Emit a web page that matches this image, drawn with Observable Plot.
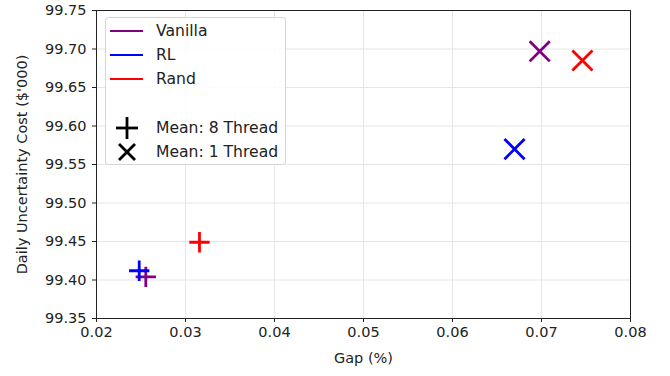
<!DOCTYPE html>
<html>
<head>
<meta charset="utf-8">
<script src="https://cdn.jsdelivr.net/npm/d3@7"></script>
<script src="https://cdn.jsdelivr.net/npm/@observablehq/plot@0.6"></script>
<style>
  html, body { margin: 0; padding: 0; background: #fff; }
  #wrap { position: relative; width: 670px; height: 376px; font-family: "DejaVu Sans", sans-serif; }
  #legend { position: absolute; left: 105px; top: 17px; width: 181px; height: 148px; box-sizing: border-box;
    border: 1px solid #d6d6d6; border-radius: 3px; background: rgba(255,255,255,0.85); font-size: 15.6px; color: #222; }
  #legend .row { position: absolute; left: 0; height: 20px; display: flex; align-items: center; }
  #legend .row span { position: absolute; left: 50px; white-space: nowrap; }
  svg text { font-size: 14.5px; }
</style>
</head>
<body>
<div id="wrap"></div>
<script>
const methods = ["Vanilla", "RL", "Rand"];
const colors = ["#800080", "#0000ff", "#ff0000"];
// Mean: 8 Thread (plus markers)
const gap8 = [0.02554, 0.0248, 0.03157];
const cost8 = [99.404, 99.412, 99.449];
// Mean: 1 Thread (times markers)
const gap1 = [0.0698, 0.06697, 0.0746];
const cost1 = [99.697, 99.570, 99.685];
const xTicks = [0.02, 0.03, 0.04, 0.05, 0.06, 0.07, 0.08];
const yTicks = [99.35, 99.40, 99.45, 99.50, 99.55, 99.60, 99.65, 99.70, 99.75];
const legendMarkers = ["Mean: 8 Thread", "Mean: 1 Thread"];

const d8 = methods.map((m, i) => ({method: m, gap: gap8[i], cost: cost8[i]}));
const d1 = methods.map((m, i) => ({method: m, gap: gap1[i], cost: cost1[i]}));

const plot = Plot.plot({
  width: 670,
  height: 376,
  marginLeft: 96,
  marginRight: 40,
  marginTop: 10,
  marginBottom: 58,
  style: {fontFamily: "DejaVu Sans, sans-serif", fontSize: "14.5px", color: "#222", background: "#fff"},
  x: {domain: [0.02, 0.08]},
  y: {domain: [99.35, 99.75]},
  color: {domain: methods, range: colors},
  marks: [
    Plot.gridX(xTicks, {stroke: "#e6e6e6", strokeOpacity: 1}),
    Plot.gridY(yTicks, {stroke: "#e6e6e6", strokeOpacity: 1}),
    Plot.frame({stroke: "#222", strokeWidth: 1}),
    Plot.axisX({ticks: xTicks, tickSize: 4, tickPadding: 4, tickFormat: d => d.toFixed(2), label: "Gap (%)", labelAnchor: "center", labelArrow: "none", labelOffset: 44, fontSize: 14.5}),
    Plot.axisY({ticks: yTicks, tickSize: 4, tickPadding: 6, tickFormat: d => d.toFixed(2), label: "Daily Uncertainty Cost ($'000)", labelAnchor: "center", labelArrow: "none", labelOffset: 80, fontSize: 14.5}),
    Plot.dot(d8, {x: "gap", y: "cost", stroke: "method", symbol: "plus", r: 6.6, strokeWidth: 2.8}),
    Plot.dot(d1, {x: "gap", y: "cost", stroke: "method", symbol: "times", r: 9.2, strokeWidth: 2.8})
  ]
});

const wrap = document.getElementById("wrap");
wrap.appendChild(plot);

// Legend overlay
const lg = document.createElement("div");
lg.id = "legend";
const rowsY = [3, 27, 51];
methods.forEach((m, i) => {
  const r = document.createElement("div");
  r.className = "row";
  r.style.top = rowsY[i] + "px";
  r.innerHTML = `<svg width="50" height="20"><line x1="4" x2="37" y1="10" y2="10" stroke="${colors[i]}" stroke-width="2"/></svg><span>${m}</span>`;
  lg.appendChild(r);
});
const mk = [
  `<line x1="10" x2="32" y1="10" y2="10" stroke="#000" stroke-width="2.8"/><line x1="21" x2="21" y1="-1" y2="21" stroke="#000" stroke-width="2.8"/>`,
  `<line x1="13" x2="29" y1="2" y2="18" stroke="#000" stroke-width="2.8"/><line x1="13" x2="29" y1="18" y2="2" stroke="#000" stroke-width="2.8"/>`
];
legendMarkers.forEach((t, i) => {
  const r = document.createElement("div");
  r.className = "row";
  r.style.top = (100 + i * 24) + "px";
  r.innerHTML = `<svg width="50" height="20" style="overflow:visible">${mk[i]}</svg><span>${t}</span>`;
  lg.appendChild(r);
});
wrap.appendChild(lg);
</script>
</body>
</html>
